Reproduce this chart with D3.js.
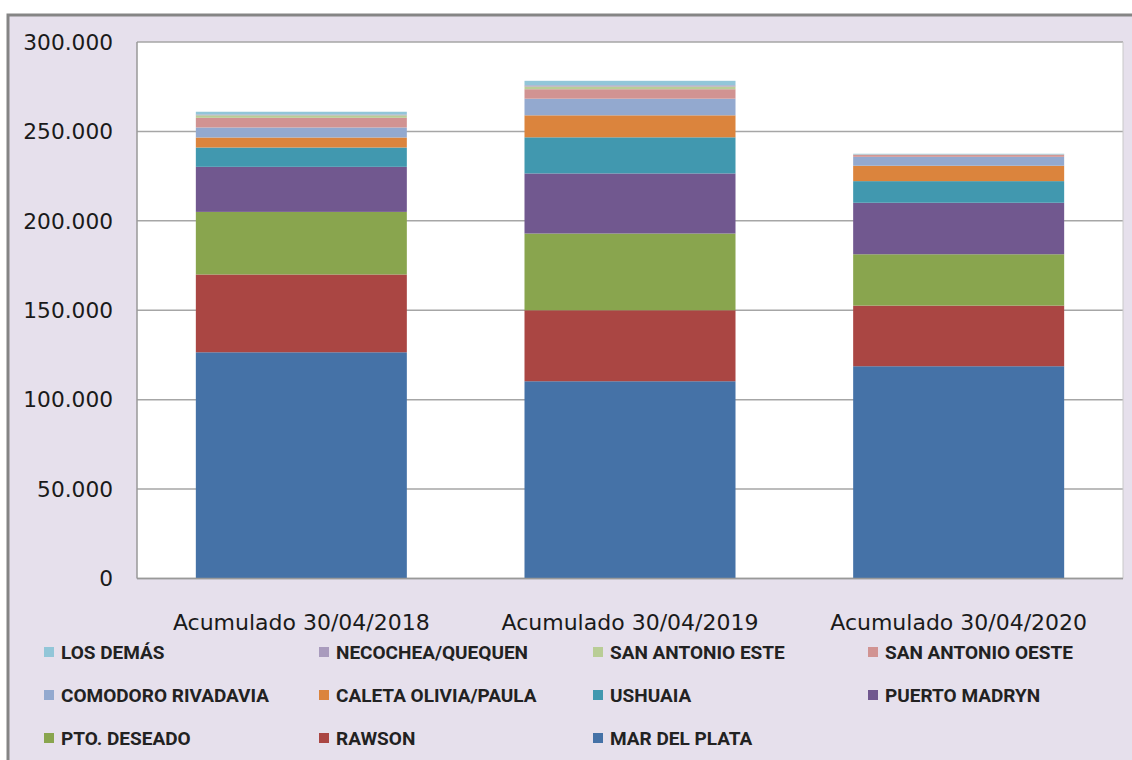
<!DOCTYPE html>
<html>
<head>
<meta charset="utf-8">
<script src="https://cdn.jsdelivr.net/npm/d3@7"></script>
<style>
  body { margin: 0; background: #fff; }
  svg { display: block; }
</style>
</head>
<body>
<div id="chart"></div>
<script>
// dimensions
var width = 1132;
var height = 760;
var plot = { left: 137, right: 1123, top: 42, bottom: 578.5 };

// data
var categories = ['Acumulado 30/04/2018', 'Acumulado 30/04/2019', 'Acumulado 30/04/2020'];

// stacking order, bottom to top
var seriesNames = ['MAR DEL PLATA', 'RAWSON', 'PTO. DESEADO', 'PUERTO MADRYN', 'USHUAIA',
	'CALETA OLIVIA/PAULA', 'COMODORO RIVADAVIA', 'SAN ANTONIO OESTE', 'SAN ANTONIO ESTE',
	'NECOCHEA/QUEQUEN', 'LOS DEMÁS'];

var marDelPlata = [126500, 110300, 118700];
var rawson = [43500, 39700, 33900];
var ptoDeseado = [35000, 42900, 28700];
var puertoMadryn = [25200, 33600, 28800];
var ushuaia = [10800, 20200, 12100];
var caletaOlivia = [5600, 12300, 8600];
var comodoro = [5600, 9300, 5000];
var sanAntonioOeste = [5400, 5300, 1000];
var sanAntonioEste = [1400, 1500, 200];
var necochea = [500, 700, 200];
var losDemas = [1500, 2500, 300];

var seriesValues = [marDelPlata, rawson, ptoDeseado, puertoMadryn, ushuaia, caletaOlivia,
	comodoro, sanAntonioOeste, sanAntonioEste, necochea, losDemas];

var yTicks = [0, 50000, 100000, 150000, 200000, 250000, 300000];

// legend order as shown (rows of 4)
var legendOrder = ['LOS DEMÁS', 'NECOCHEA/QUEQUEN', 'SAN ANTONIO ESTE', 'SAN ANTONIO OESTE',
	'COMODORO RIVADAVIA', 'CALETA OLIVIA/PAULA', 'USHUAIA', 'PUERTO MADRYN',
	'PTO. DESEADO', 'RAWSON', 'MAR DEL PLATA'];

var color = d3.scaleOrdinal()
	.domain(seriesNames)
	.range(['#4572a7', '#aa4643', '#89a54e', '#71588f', '#4198af', '#db843d',
		'#93a9cf', '#d19392', '#b9cd96', '#a99bbd', '#92c6d8']);

// build table for d3.stack
var table = categories.map(function(c, i) {
	var row = { category: c };
	seriesNames.forEach(function(s, j) { row[s] = seriesValues[j][i]; });
	return row;
});

var stacked = d3.stack().keys(seriesNames)(table);

var locale = d3.formatLocale({ decimal: ',', thousands: '.', grouping: [3], currency: ['', ''] });
var fmt = locale.format(',');

var svg = d3.select('#chart')
	.append('svg')
	.attr('width', width)
	.attr('height', height);

// outer background & frame
svg.append('rect')
	.attr('x', 8)
	.attr('y', 15)
	.attr('width', width)
	.attr('height', height)
	.attr('fill', '#e6e0ec')
	.attr('stroke', '#858585')
	.attr('stroke-width', 3);

var x = d3.scaleBand()
	.domain(categories)
	.range([plot.left, plot.right])
	.paddingInner(0.358)
	.paddingOuter(0.179);

var y = d3.scaleLinear()
	.domain([0, 300000])
	.range([plot.bottom, plot.top]);

// plot area
svg.append('rect')
	.attr('x', plot.left)
	.attr('y', plot.top)
	.attr('width', plot.right - plot.left)
	.attr('height', plot.bottom - plot.top)
	.attr('fill', '#fff');

// gridlines
svg.append('g')
	.selectAll('line')
	.data(yTicks)
	.enter()
	.append('line')
		.attr('x1', plot.left)
		.attr('x2', plot.right)
		.attr('y1', function(d) { return y(d); })
		.attr('y2', function(d) { return y(d); })
		.attr('stroke', '#a6a6a6')
		.attr('stroke-width', 1.5);

// right edge of plot area
svg.append('line')
	.attr('x1', plot.right)
	.attr('x2', plot.right)
	.attr('y1', plot.top)
	.attr('y2', plot.bottom)
	.attr('stroke', '#c8c8c8')
	.attr('stroke-width', 1);

// bars
svg.append('g')
	.selectAll('g')
	.data(stacked)
	.enter()
	.append('g')
		.attr('fill', function(d) { return color(d.key); })
	.selectAll('rect')
	.data(function(d) { return d; })
	.enter()
	.append('rect')
		.attr('x', function(d) { return x(d.data.category); })
		.attr('y', function(d) { return y(d[1]); })
		.attr('width', x.bandwidth())
		.attr('height', function(d) { return y(d[0]) - y(d[1]); });

// axes lines
svg.append('line')
	.attr('x1', plot.left)
	.attr('x2', plot.left)
	.attr('y1', plot.top)
	.attr('y2', plot.bottom)
	.attr('stroke', '#999')
	.attr('stroke-width', 1.5);

svg.append('line')
	.attr('x1', plot.left)
	.attr('x2', plot.right)
	.attr('y1', plot.bottom)
	.attr('y2', plot.bottom)
	.attr('stroke', '#999')
	.attr('stroke-width', 1.5);

// y tick labels
svg.append('g')
	.selectAll('text')
	.data(yTicks)
	.enter()
	.append('text')
		.attr('x', 113)
		.attr('y', function(d) { return y(d); })
		.attr('dy', '0.36em')
		.attr('text-anchor', 'end')
		.attr('font-family', 'DejaVu Sans')
		.attr('font-size', '21.7px')
		.attr('fill', '#1a1a1a')
		.text(function(d) { return fmt(d); });

// category labels
svg.append('g')
	.selectAll('text')
	.data(categories)
	.enter()
	.append('text')
		.attr('x', function(d) { return x(d) + x.bandwidth() / 2; })
		.attr('y', 630)
		.attr('text-anchor', 'middle')
		.attr('font-family', 'DejaVu Sans')
		.attr('font-size', '22px')
		.attr('fill', '#1a1a1a')
		.text(function(d) { return d; });

// legend
var colX = [44, 319, 593, 868];
var rowY = [652, 695, 738];

var legend = svg.append('g')
	.selectAll('g')
	.data(legendOrder)
	.enter()
	.append('g')
		.attr('transform', function(d, i) {
			return 'translate(' + colX[i % 4] + ',' + rowY[Math.floor(i / 4)] + ')';
		});

legend.append('rect')
	.attr('x', 0)
	.attr('y', -5)
	.attr('width', 10)
	.attr('height', 10)
	.attr('fill', function(d) { return color(d); });

legend.append('text')
	.attr('x', 17)
	.attr('y', 0)
	.attr('dy', '0.36em')
	.attr('font-family', 'Roboto, sans-serif')
	.attr('font-size', '19px')
	.attr('font-weight', 'bold')
	.attr('fill', '#222')
	.text(function(d) { return d; });
</script>
</body>
</html>
